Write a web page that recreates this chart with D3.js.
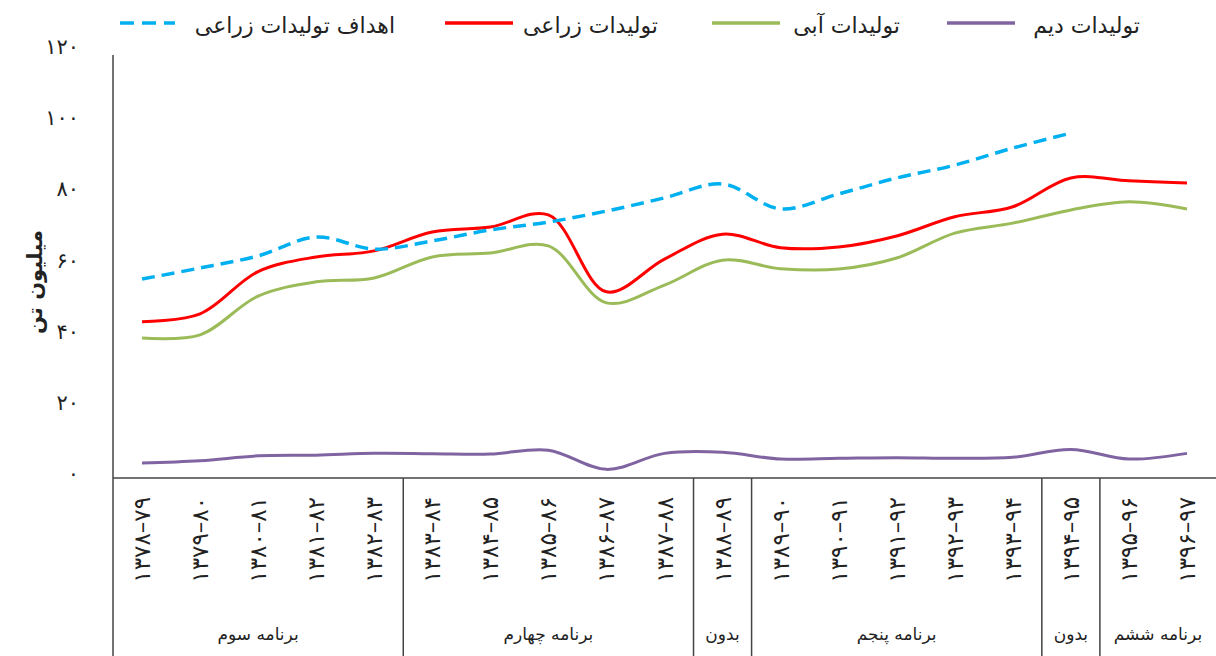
<!DOCTYPE html>
<html>
<head>
<meta charset="utf-8">
<script src="https://cdn.jsdelivr.net/npm/d3@7"></script>
<style>
  body { margin: 0; background: #fff; }
  svg text { font-family: "DejaVu Sans", sans-serif; fill: #222; }
</style>
</head>
<body>
<div id="chart"></div>
<script>
// years (x categories)
var years = ["۱۳۷۸–۷۹", "۱۳۷۹–۸۰", "۱۳۸۰–۸۱", "۱۳۸۱–۸۲", "۱۳۸۲–۸۳", "۱۳۸۳–۸۴", "۱۳۸۴–۸۵",
  "۱۳۸۵–۸۶", "۱۳۸۶–۸۷", "۱۳۸۷–۸۸", "۱۳۸۸–۸۹", "۱۳۸۹–۹۰", "۱۳۹۰–۹۱", "۱۳۹۱–۹۲",
  "۱۳۹۲–۹۳", "۱۳۹۳–۹۴", "۱۳۹۴–۹۵", "۱۳۹۵–۹۶", "۱۳۹۶–۹۷"];

// development plan groups under the axis
var groupNames = ["برنامه سوم", "برنامه چهارم", "بدون", "برنامه پنجم", "بدون", "برنامه ششم"];
var groupSizes = [5, 5, 1, 5, 1, 2];

// million tonnes
var targetValues = [54.8, 57.9, 61.3, 66.6, 63.2, 65.5, 68.6, 70.8, 73.9, 77.6, 81.5, 74.5, 78.7, 83.2, 86.8, 91.6, 95.8];
var totalValues = [42.8, 45.0, 56.9, 61.0, 62.7, 68.0, 69.4, 72.8, 51.2, 60.4, 67.4, 63.6, 63.8, 66.9, 72.3, 75.1, 83.2, 82.4, 81.8];
var irrigatedValues = [38.2, 39.1, 50.0, 54.0, 55.1, 61.0, 62.1, 64.1, 48.1, 53.1, 60.1, 57.7, 57.6, 60.7, 67.7, 70.5, 74.2, 76.5, 74.5];
var rainfedValues = [3.1, 3.7, 5.1, 5.3, 5.8, 5.7, 5.6, 6.7, 1.3, 5.8, 6.1, 4.2, 4.4, 4.6, 4.4, 4.7, 6.9, 4.2, 5.8];

var yTicks = [0, 20, 40, 60, 80, 100, 120];

var seriesNames = ["تولیدات دیم", "تولیدات آبی", "تولیدات زراعی", "اهداف تولیدات زراعی"];
var seriesColors = ["#8064a2", "#9bbb59", "#ff0000", "#00b0f0"];

var width = 1216, height = 656;
var left = 113, right = 1216, axisY = 478;

var svg = d3.select("#chart").append("svg")
    .attr("width", width)
    .attr("height", height);

var x = d3.scaleBand().domain(years).range([left, right]).padding(0);
var y = d3.scaleLinear().domain([0, 120]).range([474, 47]);

var persian = function(v) {
  return String(v).replace(/\d/g, function(c) { return "۰۱۲۳۴۵۶۷۸۹"[+c]; });
};

// y axis labels
svg.append("g").selectAll("text")
  .data(yTicks).enter().append("text")
    .attr("x", 79)
    .attr("y", function(d) { return y(d); })
    .attr("text-anchor", "end")
    .attr("dominant-baseline", "central")
    .style("font-size", "21px")
    .text(persian);

svg.append("text")
    .attr("transform", "translate(35,282) rotate(-90)")
    .attr("text-anchor", "middle")
    .attr("dominant-baseline", "central")
    .style("font-size", "21px")
    .style("font-weight", "bold")
    .text("میلیون تن");

// axis frame
svg.append("line")
    .attr("x1", left).attr("x2", left).attr("y1", 55).attr("y2", height)
    .attr("stroke", "#444").attr("stroke-width", 1.5);
svg.append("line")
    .attr("x1", left).attr("x2", right).attr("y1", axisY).attr("y2", axisY)
    .attr("stroke", "#444").attr("stroke-width", 1.5);

// year labels
svg.append("g").selectAll("text")
  .data(years).enter().append("text")
    .attr("transform", function(d) {
      return "translate(" + (x(d) + x.bandwidth() / 2) + ",497) rotate(-90)";
    })
    .attr("text-anchor", "end")
    .attr("dominant-baseline", "central")
    .style("font-size", "23px")
    .text(function(d) { return d; });

// group separators and names
var groups = [], start = 0;
groupNames.forEach(function(name, i) {
  groups.push({ name: name, from: start, to: start + groupSizes[i] - 1 });
  start += groupSizes[i];
});

svg.append("g").selectAll("line")
  .data(groups.slice(1)).enter().append("line")
    .attr("x1", function(d) { return x(years[d.from]); })
    .attr("x2", function(d) { return x(years[d.from]); })
    .attr("y1", axisY).attr("y2", height)
    .attr("stroke", "#444").attr("stroke-width", 1.5);

svg.append("g").selectAll("text")
  .data(groups).enter().append("text")
    .attr("x", function(d) { return (x(years[d.from]) + x(years[d.to]) + x.bandwidth()) / 2; })
    .attr("y", 640)
    .attr("text-anchor", "middle")
    .style("font-size", "17px")
    .text(function(d) { return d.name; });

// lines
var line = d3.line()
    .x(function(d, i) { return x(years[i]) + x.bandwidth() / 2; })
    .y(function(d) { return y(d); })
    .curve(d3.curveCatmullRom.alpha(0.5));

var series = [
  { values: rainfedValues, color: seriesColors[0], dash: null, w: 3 },
  { values: irrigatedValues, color: seriesColors[1], dash: null, w: 3 },
  { values: totalValues, color: seriesColors[2], dash: null, w: 3 },
  { values: targetValues, color: seriesColors[3], dash: "13,7", w: 3.5 }
];

svg.append("g").selectAll("path")
  .data(series).enter().append("path")
    .attr("d", function(d) { return line(d.values); })
    .attr("fill", "none")
    .attr("stroke", function(d) { return d.color; })
    .attr("stroke-width", function(d) { return d.w; })
    .attr("stroke-dasharray", function(d) { return d.dash; });

// legend (right to left)
var legendPos = [
  { tx: 1140, l1: 947, l2: 1015 },
  { tx: 900, l1: 712, l2: 780 },
  { tx: 658, l1: 445, l2: 513 },
  { tx: 395, l1: 120, l2: 175 }
];

var leg = svg.append("g").selectAll("g")
  .data(series).enter().append("g");

leg.append("line")
    .attr("x1", function(d, i) { return legendPos[i].l1; })
    .attr("x2", function(d, i) { return legendPos[i].l2; })
    .attr("y1", 23).attr("y2", 23)
    .attr("stroke", function(d) { return d.color; })
    .attr("stroke-width", 3.5)
    .attr("stroke-dasharray", function(d) { return d.dash ? "14,8" : null; });

leg.append("text")
    .attr("x", function(d, i) { return legendPos[i].tx; })
    .attr("y", 25)
    .attr("text-anchor", "end")
    .attr("dominant-baseline", "central")
    .style("font-size", "22px")
    .text(function(d, i) { return seriesNames[i]; });
</script>
</body>
</html>
